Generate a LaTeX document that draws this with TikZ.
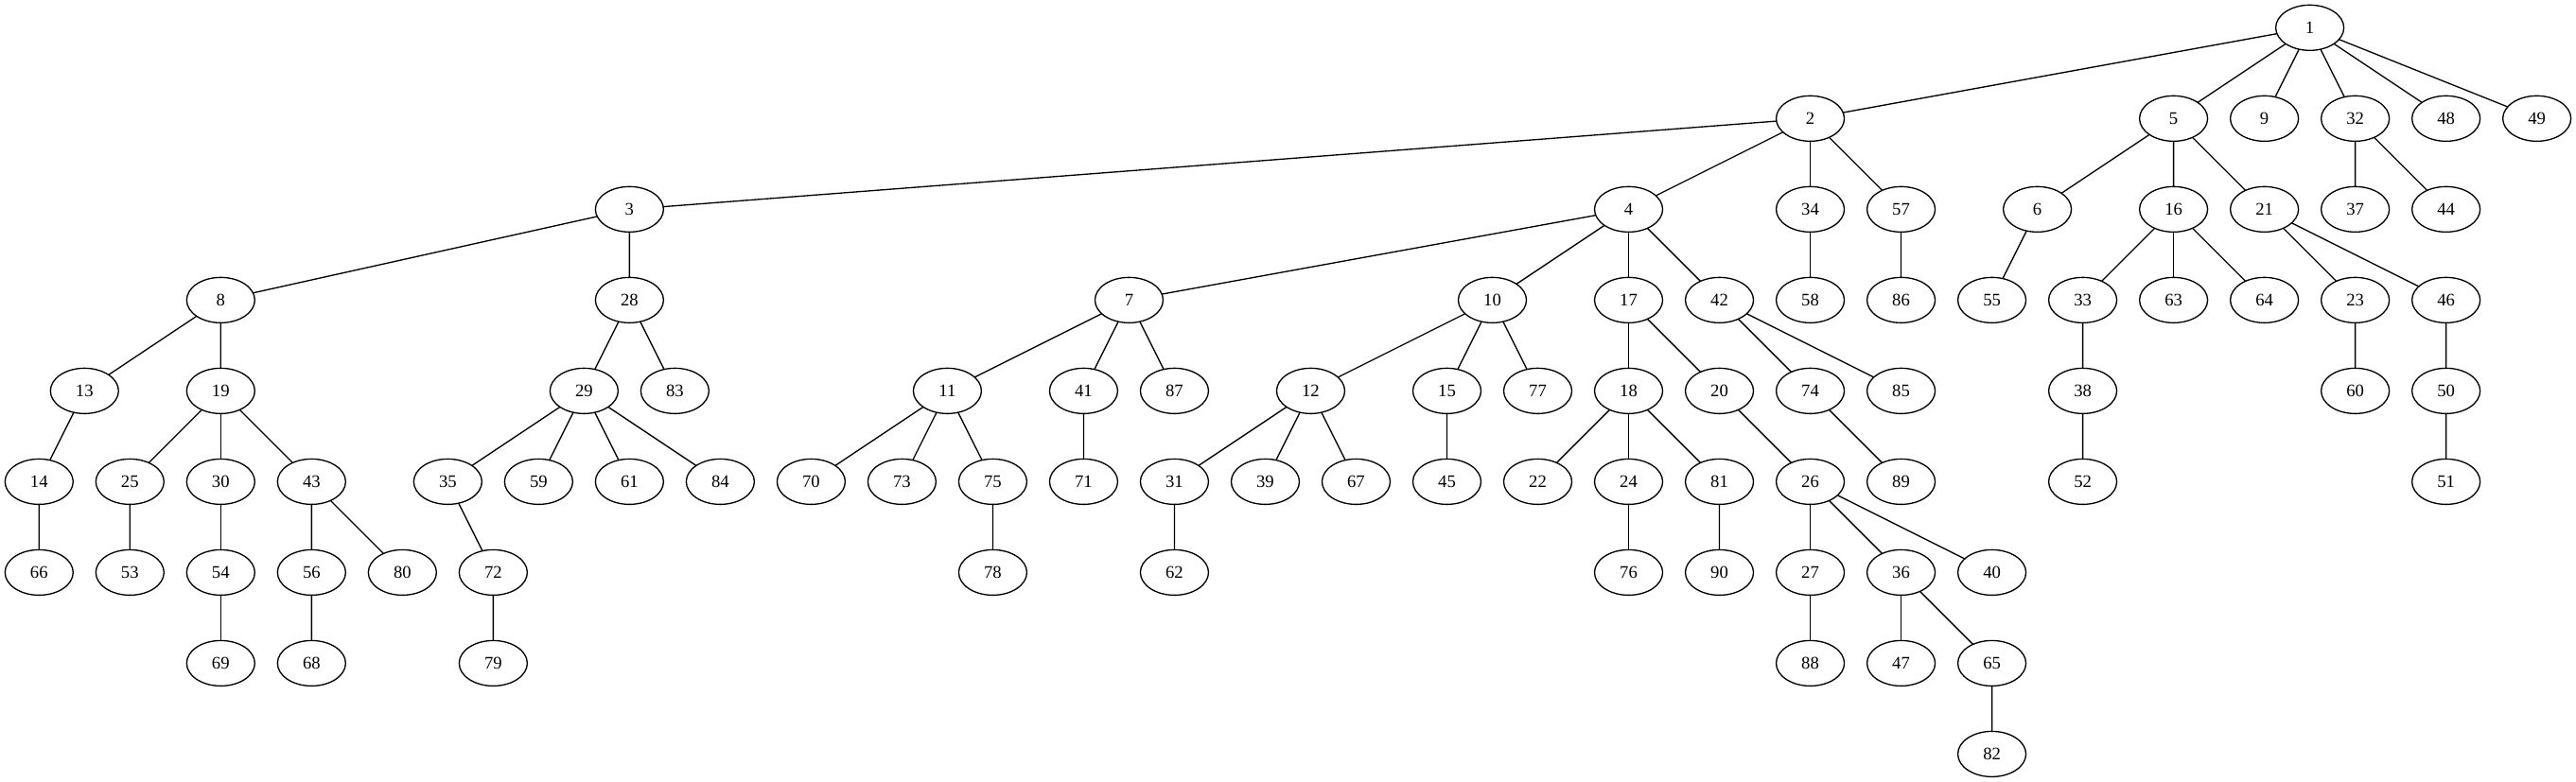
\documentclass[tikz,border=0pt]{standalone}
\usepackage{fontspec}
\setmainfont{Liberation Serif}
\usetikzlibrary{shapes.geometric, positioning}
\tikzstyle{Vertex} = [ellipse, draw, minimum width=54pt, minimum height=36pt,
                      inner sep=0pt, outer sep=0pt, font=\fontsize{14}{16}\selectfont]

\begin{document}
\begin{tikzpicture}
    [node distance = 36pt and 18pt, line width=1pt]

    \useasboundingbox (-1831pt,22pt) rectangle (211pt,-598pt);

    %% Rank 0 and 1
    \node [Vertex] (v1) {1};
    \node [Vertex, below= of v1, xshift=-396pt] (v2) {2};
    \node [Vertex, right= of v2, xshift=216pt] (v5) {5};
    \node [Vertex, right= of v5] (v9) {9};
    \node [Vertex, right= of v9] (v32) {32};
    \node [Vertex, right= of v32] (v48) {48};
    \node [Vertex, right= of v48] (v49) {49};

    %% Rank 2
    \node [Vertex, below= of v2, xshift=-936pt] (v3) {3};
    \node [Vertex, below= of v2, xshift=-144pt] (v4) {4};
    \node [Vertex, below= of v2] (v34) {34};
    \node [Vertex, right= of v34] (v57) {57};
    \node [Vertex, right= of v57, xshift=36pt] (v6) {6};
    \node [Vertex, below= of v5] (v16) {16};
    \node [Vertex, right= of v16] (v21) {21};
    \node [Vertex, below= of v32] (v37) {37};
    \node [Vertex, right= of v37] (v44) {44};

    %% Rank 3
    \node [Vertex, below= of v3, xshift=-324pt] (v8) {8};
    \node [Vertex, below= of v3] (v28) {28};
    \node [Vertex, below= of v4, xshift=-396pt] (v7) {7};
    \node [Vertex, below= of v4, xshift=-108pt] (v10) {10};
    \node [Vertex, below= of v4] (v17) {17};
    \node [Vertex, right= of v17] (v42) {42};
    \node [Vertex, below= of v34] (v58) {58};
    \node [Vertex, below= of v57] (v86) {86};
    \node [Vertex, right= of v86] (v55) {55};
    \node [Vertex, right= of v55] (v33) {33};
    \node [Vertex, below= of v16] (v63) {63};
    \node [Vertex, below= of v21] (v64) {64};
    \node [Vertex, below= of v37] (v23) {23};
    \node [Vertex, below= of v44] (v46) {46};

    %% Rank 4
    \node [Vertex, below= of v8, xshift=-108pt] (v13) {13};
    \node [Vertex, below= of v8] (v19) {19};
    \node [Vertex, below= of v28, xshift=-36pt] (v29) {29};
    \node [Vertex, right= of v29] (v83) {83};
    \node [Vertex, below= of v7, xshift=-144pt] (v11) {11};
    \node [Vertex, below= of v7, xshift=-36pt] (v41) {41};
    \node [Vertex, right= of v41] (v87) {87};
    \node [Vertex, below= of v10, xshift=-144pt] (v12) {12};
    \node [Vertex, below= of v10, xshift=-36pt] (v15) {15};
    \node [Vertex, right= of v15] (v77) {77};
    \node [Vertex, below= of v17] (v18) {18};
    \node [Vertex, below= of v42] (v20) {20};
    \node [Vertex, right= of v20] (v74) {74};
    \node [Vertex, right= of v74] (v85) {85};
    \node [Vertex, below= of v33] (v38) {38};
    \node [Vertex, below= of v23] (v60) {60};
    \node [Vertex, below= of v46] (v50) {50};

    %% Rank 5
    \node [Vertex, below= of v13, xshift=-36pt] (v14) {14};
    \node [Vertex, right= of v14] (v25) {25};
    \node [Vertex, below= of v19] (v30) {30};
    \node [Vertex, right= of v30] (v43) {43};
    \node [Vertex, below= of v29, xshift=-108pt] (v35) {35};
    \node [Vertex, right= of v35] (v59) {59};
    \node [Vertex, right= of v59] (v61) {61};
    \node [Vertex, right= of v61] (v84) {84};
    \node [Vertex, right= of v84] (v70) {70};
    \node [Vertex, right= of v70] (v73) {73};
    \node [Vertex, right= of v73] (v75) {75};
    \node [Vertex, below= of v41] (v71) {71};
    \node [Vertex, below= of v87] (v31) {31};
    \node [Vertex, right= of v31] (v39) {39};
    \node [Vertex, right= of v39] (v67) {67};
    \node [Vertex, below= of v15] (v45) {45};
    \node [Vertex, below= of v77] (v22) {22};
    \node [Vertex, below= of v18] (v24) {24};
    \node [Vertex, below= of v20] (v81) {81};
    \node [Vertex, below= of v74] (v26) {26};
    \node [Vertex, below= of v85] (v89) {89};
    \node [Vertex, below= of v38] (v52) {52};
    \node [Vertex, below= of v50] (v51) {51};

    %% Rank 6 to 8
    \node [Vertex, below= of v14] (v66) {66};
    \node [Vertex, below= of v25] (v53) {53};
    \node [Vertex, below= of v30] (v54) {54};
    \node [Vertex, below= of v43] (v56) {56};
    \node [Vertex, right= of v56] (v80) {80};
    \node [Vertex, right= of v80] (v72) {72};
    \node [Vertex, below= of v75] (v78) {78};
    \node [Vertex, below= of v31] (v62) {62};
    \node [Vertex, below= of v24] (v76) {76};
    \node [Vertex, below= of v81] (v90) {90};
    \node [Vertex, below= of v26] (v27) {27};
    \node [Vertex, below= of v89] (v36) {36};
    \node [Vertex, right= of v36] (v40) {40};
    \node [Vertex, below= of v54] (v69) {69};
    \node [Vertex, below= of v56] (v68) {68};
    \node [Vertex, below= of v72] (v79) {79};
    \node [Vertex, below= of v27] (v88) {88};
    \node [Vertex, below= of v36] (v47) {47};
    \node [Vertex, below= of v40] (v65) {65};
    \node [Vertex, below= of v65] (v82) {82};

    %% Draw
    \draw (v1) -- (v2) -- (v3) -- (v8) -- (v13) -- (v14) -- (v66);
    \draw (v8) -- (v19) -- (v25) -- (v53);
    \draw (v19) -- (v30) -- (v54) -- (v69);
    \draw (v19) -- (v43) -- (v56) -- (v68);
    \draw (v43) -- (v80);
    \draw (v3) -- (v28) -- (v29) -- (v35) -- (v72) -- (v79);
    \draw (v29) -- (v59);
    \draw (v29) -- (v61);
    \draw (v29) -- (v84);
    \draw (v28) -- (v83);

    \draw (v2) -- (v4) -- (v7) -- (v11) -- (v75) -- (v78);
    \draw (v11) -- (v70);
    \draw (v11) -- (v73);
    \draw (v7) -- (v41) -- (v71);
    \draw (v7) -- (v87);
    \draw (v4) -- (v10) -- (v12) -- (v31) -- (v62);
    \draw (v12) -- (v39);
    \draw (v12) -- (v67);
    \draw (v10) -- (v15) -- (v45);
    \draw (v10) -- (v77);
    \draw (v4) -- (v17) -- (v18) -- (v24) -- (v76);
    \draw (v18) -- (v22);
    \draw (v18) -- (v81) -- (v90);
    \draw (v17) -- (v20) -- (v26) -- (v36) -- (v65) -- (v82);
    \draw (v26) -- (v27) -- (v88);
    \draw (v26) -- (v40);
    \draw (v36) -- (v47);
    \draw (v4) -- (v42) -- (v74) -- (v89);
    \draw (v42) -- (v85);
    \draw (v2) -- (v34) -- (v58);
    \draw (v2) -- (v57) -- (v86);

    \draw (v1) -- (v5) -- (v6) -- (v55);
    \draw (v5) -- (v16) -- (v33) -- (v38) -- (v52);
    \draw (v16) -- (v63);
    \draw (v16) -- (v64);
    \draw (v5) -- (v21) -- (v23) -- (v60);
    \draw (v21) -- (v46) -- (v50) -- (v51);
    \draw (v1) -- (v9);
    \draw (v1) -- (v32) -- (v37);
    \draw (v32) -- (v44);
    \draw (v1) -- (v48);
    \draw (v1) -- (v49);

\end{tikzpicture}
\end{document}
